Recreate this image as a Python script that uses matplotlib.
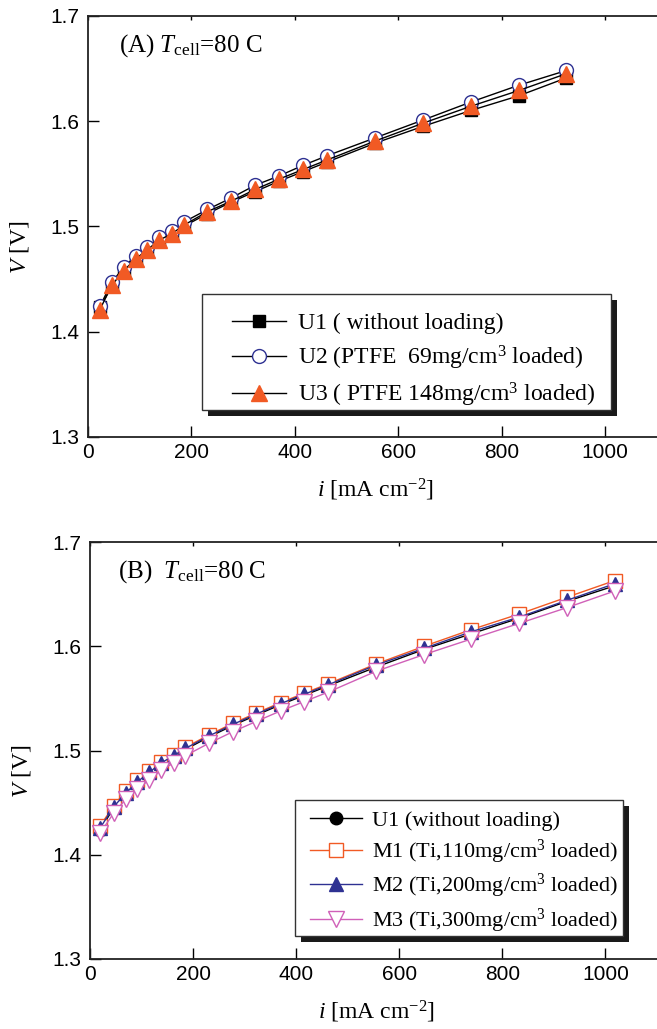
import matplotlib
matplotlib.use('Agg')
import matplotlib.pyplot as plt
from matplotlib.patches import Rectangle
from matplotlib.transforms import IdentityTransform

plt.rcParams['font.family'] = ['Liberation Serif', 'DejaVu Serif']
plt.rcParams['mathtext.fontset'] = 'custom'
plt.rcParams['mathtext.rm'] = 'Liberation Serif'
plt.rcParams['mathtext.it'] = 'Liberation Serif:italic'

# panel A data (current density in mA/cm2, cell voltage in V)
i_a = [23, 46, 69, 92, 115, 138, 162, 185, 231, 277, 323, 370, 416, 462, 555, 648, 740, 833, 925]
u1_a = [1.423, 1.443, 1.457, 1.468, 1.477, 1.486, 1.492, 1.500, 1.512, 1.523, 1.533, 1.543, 1.552, 1.561, 1.579, 1.595, 1.610, 1.624, 1.641]
u2_a = [1.424, 1.447, 1.461, 1.472, 1.480, 1.490, 1.496, 1.504, 1.516, 1.527, 1.539, 1.548, 1.558, 1.567, 1.584, 1.601, 1.618, 1.634, 1.648]
u3_a = [1.421, 1.444, 1.458, 1.469, 1.478, 1.487, 1.493, 1.501, 1.514, 1.524, 1.535, 1.545, 1.554, 1.563, 1.581, 1.598, 1.614, 1.629, 1.645]
labels_a = ['U1 ( without loading)', 'U2 (PTFE  69mg/cm$^3$ loaded)', 'U3 ( PTFE 148mg/cm$^3$ loaded)']

# panel B data
i_b = [20, 46, 69, 92, 115, 138, 162, 185, 231, 277, 323, 370, 416, 462, 555, 648, 740, 833, 925, 1018]
u1_b = [1.424, 1.445, 1.458, 1.469, 1.478, 1.487, 1.494, 1.501, 1.513, 1.524, 1.534, 1.544, 1.553, 1.562, 1.580, 1.597, 1.612, 1.627, 1.643, 1.658]
m1_b = [1.428, 1.447, 1.461, 1.472, 1.480, 1.489, 1.496, 1.503, 1.515, 1.526, 1.536, 1.546, 1.555, 1.564, 1.583, 1.600, 1.616, 1.631, 1.647, 1.663]
m2_b = [1.426, 1.446, 1.459, 1.470, 1.479, 1.488, 1.495, 1.502, 1.514, 1.525, 1.535, 1.545, 1.554, 1.563, 1.582, 1.598, 1.614, 1.628, 1.644, 1.660]
m3_b = [1.421, 1.440, 1.453, 1.463, 1.472, 1.481, 1.488, 1.495, 1.507, 1.518, 1.528, 1.538, 1.547, 1.556, 1.576, 1.592, 1.607, 1.622, 1.637, 1.653]
labels_b = ['U1 (without loading)', 'M1 (Ti,110mg/cm$^3$ loaded)', 'M2 (Ti,200mg/cm$^3$ loaded)', 'M3 (Ti,300mg/cm$^3$ loaded)']

xticks = [0, 200, 400, 600, 800, 1000]
yticks = [1.3, 1.4, 1.5, 1.6, 1.7]

orange = '#F15A24'
blue = '#2E3192'
pink = '#D060B8'

W, H = 657, 1029
fig = plt.figure(figsize=(W / 100, H / 100), dpi=100)
ax_a = fig.add_axes([88 / W, 1 - 437 / H, 1 - 88 / W, (437 - 15.7) / H])
ax_b = fig.add_axes([90 / W, 1 - 959 / H, 1 - 90 / W, (959 - 542) / H])

lw = 1.0
ax_a.plot(i_a, u1_a, color='black', lw=lw, marker='s', ms=9, mfc='black', mec='black', label=labels_a[0])
ax_a.plot(i_a, u2_a, color='black', lw=lw, marker='o', ms=10, mfc='white', mec=blue, mew=1.0, label=labels_a[1])
ax_a.plot(i_a, u3_a, color='black', lw=lw, marker='^', ms=11.5, mfc=orange, mec=orange, label=labels_a[2])

ax_b.plot(i_b, u1_b, color='black', lw=lw, marker='o', ms=9, mfc='black', mec='black', label=labels_b[0])
ax_b.plot(i_b, m1_b, color=orange, lw=lw, marker='s', ms=9.5, mfc='white', mec=orange, mew=1.0, label=labels_b[1])
ax_b.plot(i_b, m2_b, color=blue, lw=lw, marker='^', ms=9.5, mfc=blue, mec=blue, label=labels_b[2])
ax_b.plot(i_b, m3_b, color=pink, lw=lw, marker='v', ms=11, mfc='white', mec=pink, mew=1.0, label=labels_b[3])

for ax in (ax_a, ax_b):
    ax.set_xlim(0, 1100)
    ax.set_ylim(1.3, 1.7)
    ax.set_xticks(xticks)
    ax.set_yticks(yticks)
    ax.set_xticklabels([str(t) for t in xticks], family='Liberation Sans', fontsize=15)
    ax.set_yticklabels(['%.1f' % t for t in yticks], family='Liberation Sans', fontsize=15)
    ax.tick_params(axis='x', direction='in', length=8, width=1, pad=4, top=True)
    ax.tick_params(axis='y', direction='in', length=8, width=1, pad=6)
    for sp in ('left', 'bottom', 'top'):
        ax.spines[sp].set_linewidth(1.3)
        ax.spines[sp].set_color('#222222')
    ax.spines['right'].set_visible(False)
    ax.set_xlabel('$i$ [mA cm$^{-2}$]', fontsize=17)
    ax.set_ylabel('$V$ [V]', fontsize=17)
    # short ticks on the top spine
    for t in ax.xaxis.get_major_ticks():
        t.tick2line.set_markersize(3)

ax_a.xaxis.set_label_coords(0.506, -0.095)
ax_b.xaxis.set_label_coords(0.506, -0.095)
ax_a.yaxis.set_label_coords(-0.1, 0.45)
ax_b.yaxis.set_label_coords(-0.1, 0.45)

ax_a.text(0.055, 0.93, '(A) $T_{\\rm cell}$=80 C', transform=ax_a.transAxes, fontsize=18, va='center')
ax_b.text(0.05, 0.93, '(B)  $T_{\\rm cell}$=80 C', transform=ax_b.transAxes, fontsize=18, va='center')

# legends without frame; the boxed frame and black shadow are drawn by hand below
leg_a = ax_a.legend(loc='upper left', bbox_to_anchor=(0.253, 0.2945), borderaxespad=0, borderpad=0,
                    fontsize=17, handlelength=2.3, handletextpad=0.5, labelspacing=0.38, frameon=False)
leg_b = ax_b.legend(loc='upper left', bbox_to_anchor=(0.388, 0.357), borderaxespad=0, borderpad=0,
                    fontsize=16, handlelength=2.35, handletextpad=0.45, labelspacing=0.3, frameon=False)

fig.canvas.draw()
pads = {id(leg_a): (30, 16, 19, 1), id(leg_b): (15, 5, 10, 1)}  # left, right, top, bottom (px)
for ax, leg in ((ax_a, leg_a), (ax_b, leg_b)):
    bb = leg.get_window_extent()
    l, r, t, b = pads[id(leg)]
    x0, y0 = bb.x0 - l, bb.y0 - b
    w, h = bb.width + l + r, bb.height + t + b
    ax.add_artist(Rectangle((x0 + 6, y0 - 6), w, h, transform=IdentityTransform(),
                            facecolor='#1a1a1a', edgecolor='none', zorder=4.8, clip_on=False))
    ax.add_artist(Rectangle((x0, y0), w, h, transform=IdentityTransform(),
                            facecolor='white', edgecolor='#333333', lw=1.0, zorder=4.9, clip_on=False))

fig.savefig('out.png', dpi=100)
